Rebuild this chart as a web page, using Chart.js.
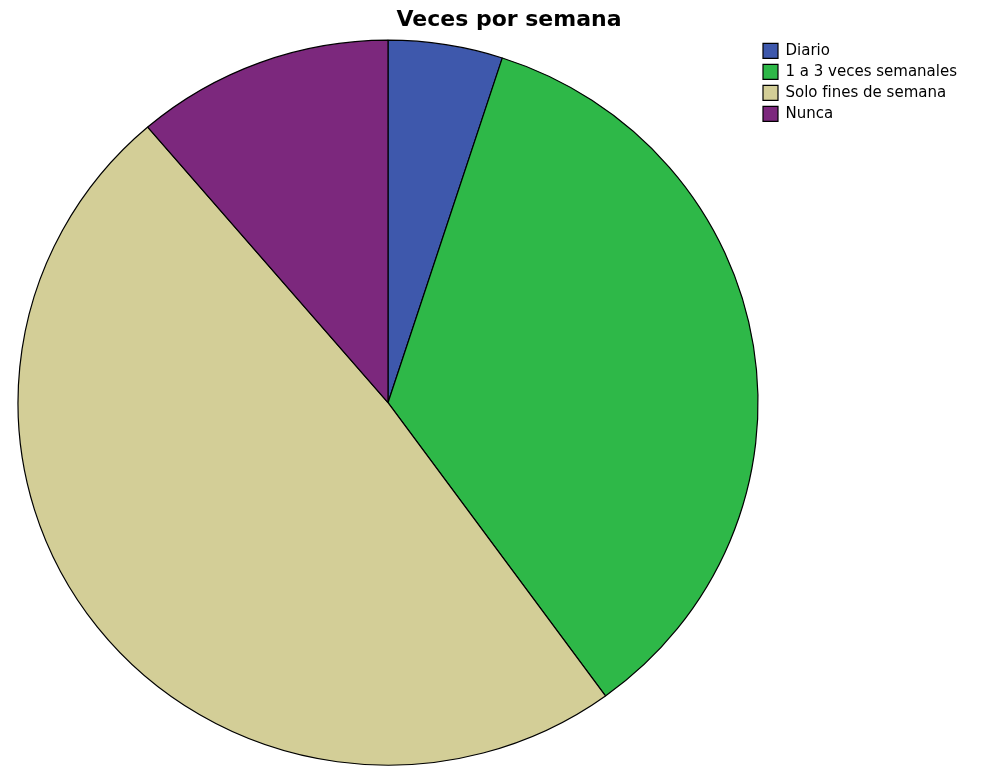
<!DOCTYPE html>
<html lang="es">
<head>
<meta charset="utf-8">
<title>Veces por semana</title>
<script src="https://cdn.jsdelivr.net/npm/chart.js@4/dist/chart.umd.min.js"></script>
<style>
  html, body { margin: 0; padding: 0; background: #ffffff; }
  #wrap { width: 988px; height: 768px; }
</style>
</head>
<body>
<div id="wrap"><canvas id="pie" width="988" height="768"></canvas></div>
<script>
// Respuestas (n = 80)
const categories = ['Diario', '1 a 3 veces semanales', 'Solo fines de semana', 'Nunca'];
const counts = [4, 28, 39, 9];
const sliceColors = ['#3e58ac', '#2eb848', '#d3ce97', '#7c287d'];
const chartTitle = 'Veces por semana';

// Slightly flattened pie: squeeze the arcs vertically around their centre.
const ellipsePie = {
  id: 'ellipsePie',
  beforeDatasetsDraw(chart) {
    const arc = chart.getDatasetMeta(0).data[0];
    if (!arc) return;
    const ctx = chart.ctx;
    ctx.save();
    ctx.translate(arc.x, arc.y);
    ctx.scale(1, 362.5 / 370);
    ctx.translate(-arc.x, -arc.y);
  },
  afterDatasetsDraw(chart) {
    chart.ctx.restore();
  }
};

// Move the title block so the heading sits a little right of the pie centre.
const titleShift = {
  id: 'titleShift',
  afterLayout(chart) {
    const t = chart.titleBlock;
    if (!t) return;
    const dx = 509 - (t.left + t.right) / 2;
    t.left += dx;
    t.right += dx;
  }
};

new Chart(document.getElementById('pie'), {
  type: 'pie',
  data: {
    labels: categories,
    datasets: [{
      data: counts,
      backgroundColor: sliceColors,
      borderColor: '#000000',
      borderWidth: 1.2
    }]
  },
  options: {
    responsive: false,
    animation: false,
    devicePixelRatio: 1,
    radius: 370,
    layout: { padding: { left: 19, right: 21, top: 0, bottom: -3 } },
    plugins: {
      title: {
        display: true,
        text: chartTitle,
        color: '#000000',
        font: { family: 'DejaVu Sans', size: 22, weight: 'bold', lineHeight: 1.2 },
        padding: { top: 7, bottom: 4 }
      },
      legend: {
        display: true,
        position: 'right',
        align: 'start',
        fullSize: false,
        labels: {
          color: '#000000',
          font: { family: 'DejaVu Sans', size: 15 },
          boxWidth: 15,
          boxHeight: 15,
          padding: 6
        }
      },
      tooltip: { enabled: false }
    }
  },
  plugins: [ellipsePie, titleShift]
});
</script>
</body>
</html>
